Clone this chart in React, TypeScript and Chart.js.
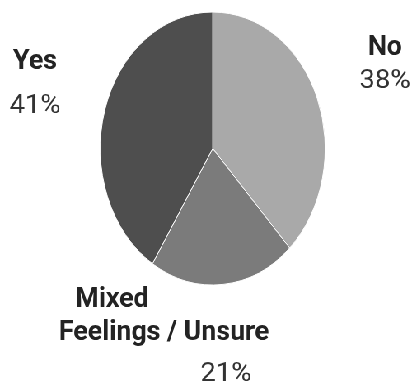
import React, { useEffect, useRef } from "react";
import { Chart, registerables } from "chart.js";

Chart.register(...registerables);

const categories = ["No", "Mixed Feelings / Unsure", "Yes"];
const labelLines = [["No"], ["Mixed", "Feelings / Unsure"], ["Yes"]];
const values = [38, 21, 41];
const colors = ["#a9a9a9", "#7b7b7b", "#4e4e4e"];

const SX = 0.824;
const W = Math.round(415 / SX);
const H = 383;

// label anchor positions (screen coords; x is divided by SX for the canvas)
const labelLayout = [
  { lines: [{ x: 385, y: 55 }], pct: { x: 385, y: 88 } },
  { lines: [{ x: 112, y: 307 }, { x: 164, y: 340 }], pct: { x: 226, y: 381 } },
  { lines: [{ x: 35, y: 69 }], pct: { x: 35, y: 113 } },
];

const LABEL_STRETCH = 1.16;
const PCT_STRETCH = 1.34;

function drawStretched(ctx: CanvasRenderingContext2D, text: string, x: number, y: number, k: number) {
  ctx.save();
  ctx.translate(x, y);
  ctx.scale(k, 1);
  ctx.fillText(text, 0, 0);
  ctx.restore();
}

const labelPlugin = {
  id: "pieLabels",
  afterDraw(chart: any) {
    const ctx = chart.ctx as CanvasRenderingContext2D;
    ctx.save();
    ctx.textAlign = "center";
    ctx.textBaseline = "alphabetic";
    labelLayout.forEach((l, i) => {
      ctx.fillStyle = "#232323";
      ctx.font = "bold 28px Roboto";
      labelLines[i].forEach((t, j) => {
        drawStretched(ctx, t, l.lines[j].x / SX, l.lines[j].y, LABEL_STRETCH);
      });
      ctx.fillStyle = "#333333";
      ctx.font = "25px Roboto";
      drawStretched(ctx, values[i] + "%", l.pct.x / SX, l.pct.y, PCT_STRETCH);
    });
    ctx.restore();
  },
};

export default function App() {
  const ref = useRef<HTMLCanvasElement>(null);
  useEffect(() => {
    if (!ref.current) return;
    const cx = 212.7 / SX;
    const r = 137;
    const chart = new Chart(ref.current, {
      type: "pie",
      data: {
        labels: categories,
        datasets: [
          {
            data: values,
            backgroundColor: colors,
            borderColor: "#ffffff",
            borderWidth: 1,
          },
        ],
      },
      options: {
        responsive: false,
        animation: false,
        layout: {
          padding: {
            left: cx - r,
            right: W - (cx + r),
            top: 148.5 - r,
            bottom: H - (148.5 + r),
          },
        },
        plugins: {
          legend: { display: false },
          tooltip: { enabled: false },
        },
      },
      plugins: [labelPlugin],
    });
    return () => chart.destroy();
  }, []);
  return (
    <div
      style={{
        position: "fixed",
        left: 0,
        top: 0,
        width: W,
        height: H,
        background: "#ffffff",
        transform: `scaleX(${SX})`,
        transformOrigin: "0 0",
      }}
    >
      <canvas ref={ref} width={W} height={H} />
    </div>
  );
}
